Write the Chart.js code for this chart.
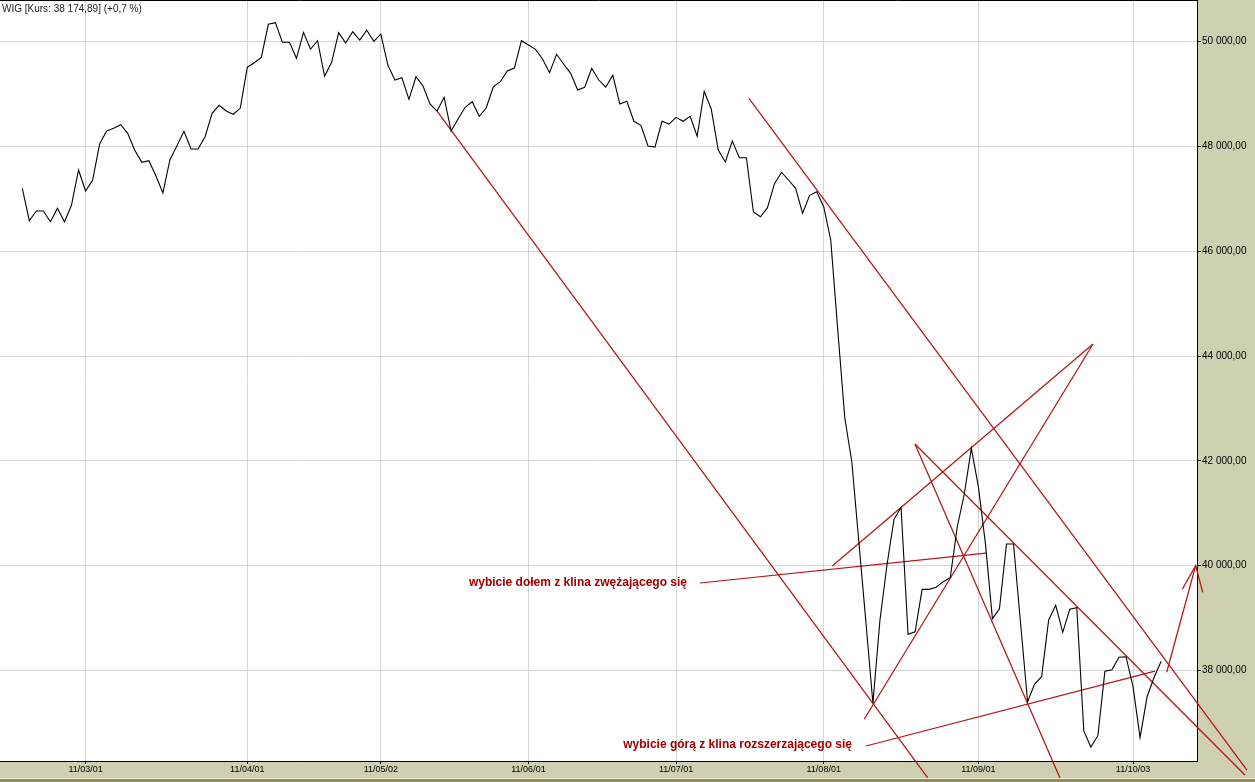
<!DOCTYPE html>
<html>
<head>
<meta charset="utf-8">
<title>WIG</title>
<script src="https://cdn.jsdelivr.net/npm/chart.js@4.4.0/dist/chart.umd.min.js"></script>
<style>
  html, body { margin: 0; padding: 0; background: #cfcfb1; overflow: hidden; }
  canvas { display: block; }
</style>
</head>
<body>
<canvas id="myChart" width="1255" height="782"></canvas>
<script>
// WIG closing values, one per session
var closes = [
  47202, 46584, 46769, 46769, 46565, 46821, 46559, 46884, 47552, 47151,
  47355, 48048, 48296, 48347, 48416, 48252, 47927, 47698, 47729, 47443,
  47113, 47748, 48015, 48290, 47952, 47952, 48187, 48634, 48786, 48677,
  48615, 48729, 49511, 49599, 49702, 50332, 50363, 49989, 49989, 49683,
  50179, 49855, 50019, 49340, 49607, 50172, 49975, 50191, 50032, 50218,
  50008, 50147, 49555, 49269, 49313, 48901, 49332, 49155, 48811, 48677,
  48939, 48296, 48531, 48748, 48855, 48576, 48740, 49141, 49237, 49441,
  49498, 50019, 49937, 49855, 49670, 49408, 49760, 49574, 49397, 49078,
  49130, 49492, 49269, 49135, 49359, 48811, 48863, 48481, 48405, 48010,
  47990, 48481, 48429, 48557, 48481, 48576, 48195, 49053, 48716, 47933,
  47704, 48105, 47786, 47786, 46750, 46660, 46832, 47290, 47508, 47361,
  47202, 46725, 47069, 47137, 46851, 46216, 44498, 42819, 41979, 40452,
  38926, 37374, 38964, 40013, 40885, 41114, 38691, 38740, 39549, 39549,
  39588, 39695, 39771, 40744, 41368, 42240, 41508, 40427, 38989, 39179,
  40414, 40414, 38906, 37405, 37742, 37882, 38964, 39244, 38729, 39168,
  39198, 36846, 36540, 36756, 37985, 38015, 38252, 38263, 37691, 36718,
  37500, 37870, 38174.89
]

// session index where each month label sits, and the labels
var monthIdx = [9, 32, 51, 72, 93, 114, 136, 158]
var monthLabels = ['11/03/01', '11/04/01', '11/05/02', '11/06/01', '11/07/01', '11/08/01', '11/09/01', '11/10/03']

// price axis ticks
var priceTicks = [38000, 40000, 42000, 44000, 46000, 48000, 50000]

// hand drawn trend lines: [session, value] pairs
var channelLow   = [[59, 48677], [128.8, 35952]]
var channelHigh  = [[103.37, 48920], [174.21, 36101]]
var wedgeTop     = [[126.98, 42323], [173.92, 36006]]
var wedgeSteep   = [[126.98, 42323], [147.61, 35949]]
var wedgeUpper   = [[115.22, 39994], [152.31, 44231]]
var wedgeLower   = [[119.77, 37069], [152.31, 44231]]
var pointerDown  = [[96.40, 39670], [137.09, 40242]]
var pointerUp    = [[120.01, 36559], [161.13, 37990]]
var arrowShaft   = [[162.79, 37966], [166.91, 40000]]
var arrowHead    = [[165.01, 39550], [166.91, 40000], [167.91, 39492]]

// notes: text, session of right edge, value of middle
var noteTexts = ['wybicie dołem z klina zwężającego się', 'wybicie górą z klina rozszerzającego się']
var noteX = [94.55, 118.02]
var noteY = [39670, 36593]

var titleText = 'WIG [Kurs: 38 174,89] (+0,7 %)'

var RED = '#b01616'

// 50000 -> "50 000,00"
function fmtPrice(v) {
  var s = String(Math.round(v)).replace(/\B(?=(\d{3})+(?!\d))/g, ' ')
  return s + ',00'
}

function toPoints(pairs) {
  return pairs.map(function (p) { return { x: p[0], y: p[1] } })
}

function redLine(pairs) {
  return {
    data: toPoints(pairs),
    borderColor: RED,
    borderWidth: 1.25,
    pointRadius: 0,
    tension: 0,
    clip: false
  }
}

// beige frame, white plot, borders, title and notes
var framePlugin = {
  id: 'frame',
  beforeDraw: function (chart) {
    var ctx = chart.ctx, a = chart.chartArea
    ctx.save()
    ctx.fillStyle = '#cfcfb1'
    ctx.fillRect(0, 0, chart.width, chart.height)
    ctx.fillStyle = '#ffffff'
    ctx.fillRect(a.left, a.top, a.right - a.left, a.bottom - a.top)
    // bottom edge of the window
    ctx.fillStyle = '#f2f2d2'
    ctx.fillRect(0, chart.height - 4, chart.width, 1)
    ctx.fillStyle = '#8e8e60'
    ctx.fillRect(0, chart.height - 3, chart.width, 3)
    ctx.restore()
  },
  afterDraw: function (chart) {
    var ctx = chart.ctx, a = chart.chartArea
    var xs = chart.scales.x, ys = chart.scales.y
    ctx.save()
    // top border
    ctx.strokeStyle = '#000'
    ctx.lineWidth = 1
    ctx.beginPath()
    ctx.moveTo(a.left, a.top + 0.5)
    ctx.lineTo(a.right, a.top + 0.5)
    ctx.stroke()
    // title
    ctx.fillStyle = '#222'
    ctx.font = '10px "Liberation Sans", Arial, sans-serif'
    ctx.textBaseline = 'middle'
    ctx.textAlign = 'left'
    ctx.fillText(titleText, a.left + 2, a.top + 9)
    // notes
    ctx.fillStyle = '#a00000'
    ctx.font = 'bold 12px "Liberation Sans", Arial, sans-serif'
    ctx.textAlign = 'right'
    for (var i = 0; i < noteTexts.length; i++) {
      ctx.fillText(noteTexts[i], xs.getPixelForValue(noteX[i]), ys.getPixelForValue(noteY[i]))
    }
    ctx.restore()
  }
}

function updateChart() {
  var ctx = document.getElementById('myChart').getContext('2d')
  var chart = new Chart(ctx, {
    type: 'line',
    data: {
      datasets: [
        {
          label: 'WIG',
          data: closes.map(function (v, i) { return { x: i, y: v } }),
          borderColor: '#000000',
          borderWidth: 1.1,
          pointRadius: 0,
          tension: 0
        },
        redLine(channelLow),
        redLine(channelHigh),
        redLine(wedgeTop),
        redLine(wedgeSteep),
        redLine(wedgeUpper),
        redLine(wedgeLower),
        redLine(pointerDown),
        redLine(pointerUp),
        redLine(arrowShaft),
        redLine(arrowHead)
      ]
    },
    options: {
      responsive: false,
      animation: false,
      events: [],
      layout: { padding: 0 },
      plugins: {
        legend: { display: false },
        tooltip: { enabled: false },
        title: { display: false }
      },
      scales: {
        x: {
          type: 'linear',
          min: -3.172,
          max: 167.1,
          afterBuildTicks: function (scale) {
            scale.ticks = monthIdx.map(function (v) { return { value: v } })
          },
          afterFit: function (scale) {
            scale.height = 21
            scale.paddingLeft = 0
            scale.paddingRight = 0
          },
          ticks: {
            autoSkip: false,
            maxRotation: 0,
            padding: 0,
            color: '#000',
            font: { family: '"Liberation Sans", Arial, sans-serif', size: 9 },
            callback: function (value, index) { return monthLabels[index] }
          },
          grid: { color: '#d6d6d6', tickColor: '#000', tickLength: 3 },
          border: { display: true, color: '#000', width: 1 }
        },
        y: {
          position: 'right',
          min: 36273,
          max: 50796,
          afterBuildTicks: function (scale) {
            scale.ticks = priceTicks.map(function (v) { return { value: v } })
          },
          afterFit: function (scale) {
            scale.width = 58
            scale.paddingTop = 0
            scale.paddingBottom = 0
          },
          ticks: {
            padding: 1,
            color: '#000',
            font: { family: '"Liberation Sans", Arial, sans-serif', size: 10 },
            callback: function (value) { return fmtPrice(value) }
          },
          grid: { color: '#d6d6d6', tickColor: '#000', tickLength: 4 },
          border: { display: true, color: '#000', width: 1 }
        }
      }
    },
    plugins: [framePlugin]
  })
}

updateChart()
</script>
</body>
</html>
